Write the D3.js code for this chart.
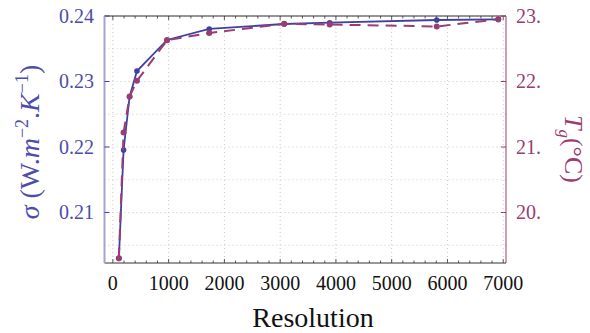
<!DOCTYPE html>
<html>
<head>
<meta charset="utf-8">
<script src="https://cdn.jsdelivr.net/npm/d3@7"></script>
<style>
  body { margin: 0; background: #fff; }
</style>
</head>
<body>
<svg id="chart" width="590" height="333" font-family="'Liberation Serif', 'Times New Roman', Times, serif"></svg>
<script>
// données
var resolution = [108, 192, 300, 432, 972, 1728, 3072, 3888, 5808, 6912];
var sigma = [0.2030, 0.21954, 0.22768, 0.2316, 0.23634, 0.23802, 0.23878, 0.23898, 0.23939, 0.23947];
var tg = [19.30, 21.22, 21.77, 22.01, 22.63, 22.74, 22.88, 22.87, 22.84, 22.95];
var xTicks = [0, 1000, 2000, 3000, 4000, 5000, 6000, 7000];
var sigmaTicks = [0.21, 0.22, 0.23, 0.24];
var tgTicks = [20, 21, 22, 23];

var colBlue = "#4040a2", colBlueTxt = "#4d4dab", colPurple = "#993d73";

var svg = d3.select("#chart");
var mLeft = 104.5, mRight = 506, mTop = 16, mBottom = 263;

var x = d3.scaleLinear().domain([-150, 7050]).range([mLeft, mRight]);
var yL = d3.scaleLinear().domain([0.20229, 0.24]).range([mBottom, mTop]);
var yR = d3.scaleLinear().domain([19.229, 23]).range([mBottom, mTop]);

// grille pointillée
var g = svg.append("g");
g.selectAll(".vgrid").data(xTicks).enter().append("line")
    .attr("x1", function(d){ return x(d); }).attr("x2", function(d){ return x(d); })
    .attr("y1", mTop).attr("y2", mBottom)
    .attr("stroke", "#bbb").attr("stroke-width", 0.8).attr("stroke-dasharray", "1,3");
g.selectAll(".hgrid").data(d3.range(0.205, 0.2401, 0.005)).enter().append("line")
    .attr("x1", mLeft).attr("x2", mRight)
    .attr("y1", function(d){ return yL(d); }).attr("y2", function(d){ return yL(d); })
    .attr("stroke", "#bbb").attr("stroke-width", 0.8).attr("stroke-dasharray", "1,3");

// cadre
svg.append("line").attr("x1", mLeft).attr("x2", mRight).attr("y1", mBottom).attr("y2", mBottom)
    .attr("stroke", "#333").attr("stroke-width", 1);
svg.append("line").attr("x1", mLeft).attr("x2", mRight).attr("y1", mTop).attr("y2", mTop)
    .attr("stroke", "#333").attr("stroke-width", 1);
svg.append("line").attr("x1", mLeft).attr("x2", mLeft).attr("y1", mTop).attr("y2", mBottom)
    .attr("stroke", "#a3a3d6").attr("stroke-width", 2);
svg.append("line").attr("x1", mRight).attr("x2", mRight).attr("y1", mTop).attr("y2", mBottom)
    .attr("stroke", colPurple).attr("stroke-width", 1);

// graduations x (haut et bas)
var minor = d3.range(0, 7001, 200);
[mBottom, mTop].forEach(function(yy, k){
    var dir = k == 0 ? -1 : 1;
    svg.append("g").selectAll("line").data(minor).enter().append("line")
        .attr("x1", function(d){ return x(d); }).attr("x2", function(d){ return x(d); })
        .attr("y1", yy).attr("y2", function(d){ return yy + dir * (d % 1000 == 0 ? 4 : 2.5); })
        .attr("stroke", "#333").attr("stroke-width", 0.8);
});
svg.append("g").selectAll("text").data(xTicks).enter().append("text")
    .attr("x", function(d){ return x(d); }).attr("y", 290)
    .attr("text-anchor", "middle").attr("font-size", 20).attr("fill", "#111")
    .text(function(d){ return d; });

// graduations gauche
svg.append("g").selectAll("line").data(sigmaTicks).enter().append("line")
    .attr("x1", mLeft).attr("x2", mLeft + 5)
    .attr("y1", function(d){ return yL(d); }).attr("y2", function(d){ return yL(d); })
    .attr("stroke", colBlue).attr("stroke-width", 1);
svg.append("g").selectAll("text").data(sigmaTicks).enter().append("text")
    .attr("x", 94).attr("y", function(d){ return yL(d) + 7; })
    .attr("text-anchor", "end").attr("font-size", 20).attr("fill", colBlueTxt)
    .text(function(d){ return d3.format(".2f")(d); });

// graduations droite
svg.append("g").selectAll("line").data(tgTicks).enter().append("line")
    .attr("x1", mRight).attr("x2", mRight - 5)
    .attr("y1", function(d){ return yR(d); }).attr("y2", function(d){ return yR(d); })
    .attr("stroke", colPurple).attr("stroke-width", 1);
svg.append("g").selectAll("text").data(tgTicks).enter().append("text")
    .attr("x", 516).attr("y", function(d){ return yR(d) + 7; })
    .attr("text-anchor", "start").attr("font-size", 20).attr("fill", colPurple)
    .text(function(d){ return d + "."; });

// titres d'axes
svg.append("text").attr("x", 313).attr("y", 327)
    .attr("text-anchor", "middle").attr("font-size", 28).attr("fill", "#111")
    .text("Resolution");

var tL = svg.append("text").attr("transform", "translate(39,142) rotate(-90)")
    .attr("text-anchor", "middle").attr("font-size", 28).attr("fill", colBlueTxt);
tL.append("tspan").attr("font-style", "italic").text("σ");
tL.append("tspan").text(" (W.");
tL.append("tspan").attr("font-style", "italic").text("m");
tL.append("tspan").attr("dy", -11).attr("font-size", 18).text("−2");
tL.append("tspan").attr("dy", 11).text(".");
tL.append("tspan").attr("font-style", "italic").text("K");
tL.append("tspan").attr("dy", -11).attr("font-size", 18).text("−1");
tL.append("tspan").attr("dy", 11).text(")");

var tR = svg.append("text").attr("transform", "translate(565,149) rotate(90)")
    .attr("text-anchor", "middle").attr("font-size", 26).attr("fill", colPurple);
tR.append("tspan").attr("font-style", "italic").text("T");
tR.append("tspan").attr("dy", 6).attr("font-size", 17).attr("font-style", "italic").text("g");
tR.append("tspan").attr("dy", -6).text("(°C)");

// courbes
var dataS = resolution.map(function(r, i){ return {x: r, y: sigma[i]}; });
var dataT = resolution.map(function(r, i){ return {x: r, y: tg[i]}; });

var lineS = d3.line().x(function(d){ return x(d.x); }).y(function(d){ return yL(d.y); });
var lineT = d3.line().x(function(d){ return x(d.x); }).y(function(d){ return yR(d.y); });

svg.append("path").datum(dataS).attr("d", lineS)
    .attr("fill", "none").attr("stroke", colBlue).attr("stroke-width", 1.8);
svg.append("g").selectAll("circle").data(dataS).enter().append("circle")
    .attr("cx", function(d){ return x(d.x); }).attr("cy", function(d){ return yL(d.y); })
    .attr("r", 2.8).attr("fill", colBlue);

svg.append("path").datum(dataT).attr("d", lineT)
    .attr("fill", "none").attr("stroke", colPurple).attr("stroke-width", 2)
    .attr("stroke-dasharray", "11,7");
svg.append("g").selectAll("circle").data(dataT).enter().append("circle")
    .attr("cx", function(d){ return x(d.x); }).attr("cy", function(d){ return yR(d.y); })
    .attr("r", 3).attr("fill", colPurple);
</script>
</body>
</html>
